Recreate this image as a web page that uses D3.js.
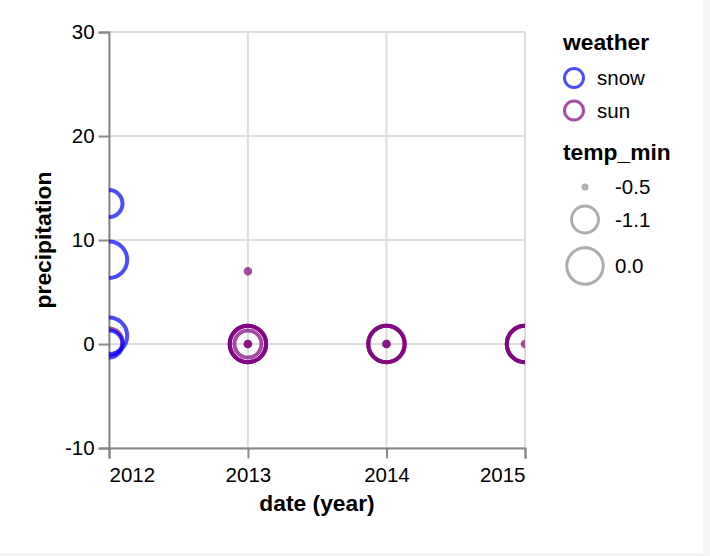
<!DOCTYPE html>
<html>
<head>
<meta charset="utf-8">
<script src="https://cdn.jsdelivr.net/npm/d3@7"></script>
<style>
  body { margin: 0; background: #f4f4f4; }
  svg { display: block; font-family: "Liberation Sans", Arial, Helvetica, sans-serif; }
</style>
</head>
<body>
<svg id="chart" width="710" height="556"></svg>
<script>
// one row per observation
var weather       = ["sun", "snow", "snow", "snow", "snow", "sun", "sun", "sun", "sun", "sun", "sun", "sun", "sun", "sun", "sun", "sun", "sun", "sun", "sun", "sun", "sun"];
var years         = [2012, 2012, 2012, 2012, 2012, 2013, 2013, 2013, 2013, 2013, 2013, 2013, 2014, 2014, 2014, 2014, 2014, 2015, 2015, 2015, 2015];
var precipitation = [0.2, 13.5, 8.1, 0.8, 0, 7.0, 0, 0, 0, 0, 0, 0, 0, 0, 0, 0, 0, 0, 0, 0, 0];
var tempMin       = ["-1.1", "-1.1", "0.0", "0.0", "-1.1", "-0.5", "0.0", "0.0", "0.0", "-1.1", "-0.5", "-0.5", "0.0", "0.0", "0.0", "-0.5", "-0.5", "0.0", "0.0", "0.0", "-0.5"];

var weatherTypes = ["snow", "sun"];
var tempLevels   = ["-0.5", "-1.1", "0.0"];
var yTicks       = [-10, 0, 10, 20, 30];
var xTickYears   = [2012, 2013, 2014, 2015];

var svg = d3.select("#chart");

// white page area, grey frame on right / bottom
svg.append("rect").attr("width", 703).attr("height", 553).attr("fill", "#fff");

var plotLeft = 109, plotTop = 32, w = 416, h = 416;

var x = d3.scaleUtc()
    .domain([new Date(Date.UTC(2012, 0, 1)), new Date(Date.UTC(2015, 0, 1))])
    .range([plotLeft, plotLeft + w]);
var y = d3.scaleLinear().domain([-10, 30]).range([plotTop + h, plotTop]);
var color = d3.scaleOrdinal().domain(weatherTypes).range(["blue", "purple"]);
var radius = d3.scaleOrdinal().domain(tempLevels).range([2.3, 13.5, 18.2]);

var points = years.map(function(yr, i) {
    return {
        date: new Date(Date.UTC(yr, 0, 1)),
        precipitation: precipitation[i],
        weather: weather[i],
        temp: tempMin[i]
    };
});

// grid
var grid = svg.append("g").attr("stroke", "#ddd").attr("stroke-width", 2);
grid.selectAll(".gx")
    .data(xTickYears)
    .enter().append("line")
    .attr("x1", function(d) { return x(new Date(Date.UTC(d, 0, 1))); })
    .attr("x2", function(d) { return x(new Date(Date.UTC(d, 0, 1))); })
    .attr("y1", plotTop).attr("y2", plotTop + h);
grid.selectAll(".gy")
    .data(yTicks)
    .enter().append("line")
    .attr("y1", function(d) { return y(d); })
    .attr("y2", function(d) { return y(d); })
    .attr("x1", plotLeft).attr("x2", plotLeft + w);

// axes
var xAxis = svg.append("g")
    .attr("transform", "translate(0," + (plotTop + h) + ")")
    .call(d3.axisBottom(x)
        .tickValues(xTickYears.map(function(d) { return new Date(Date.UTC(d, 0, 1)); }))
        .tickFormat(d3.utcFormat("%Y"))
        .tickSize(10.4).tickPadding(4));
xAxis.selectAll("text")
    .attr("text-anchor", function(d, i) { return i === 0 ? "start" : (i === xTickYears.length - 1 ? "end" : "middle"); })
    .attr("dy", "0.95em");

var yAxis = svg.append("g")
    .attr("transform", "translate(" + plotLeft + ",0)")
    .call(d3.axisLeft(y).tickValues(yTicks)
        .tickFormat(function(d) { return String(d); })
        .tickSize(10.4).tickPadding(4));

svg.selectAll(".domain, .tick line").attr("stroke", "#888").attr("stroke-width", 2);
svg.selectAll(".tick text").attr("font-size", 20.5).attr("fill", "#000")
    .attr("font-family", "'Liberation Sans', Arial, sans-serif");

// titles
svg.append("text")
    .attr("x", plotLeft + w / 2).attr("y", 511)
    .attr("text-anchor", "middle")
    .attr("font-size", 22.8).attr("font-weight", "bold")
    .text("date (year)");
svg.append("text")
    .attr("transform", "translate(51," + (plotTop + h / 2) + ") rotate(-90)")
    .attr("text-anchor", "middle")
    .attr("font-size", 22.8).attr("font-weight", "bold")
    .text("precipitation");

// points, clipped to plot area
svg.append("clipPath").attr("id", "plotclip")
    .append("rect").attr("x", plotLeft).attr("y", plotTop).attr("width", w).attr("height", h);

svg.append("g").attr("clip-path", "url(#plotclip)")
    .selectAll("circle")
    .data(points)
    .enter().append("circle")
    .attr("cx", function(d) { return x(d.date); })
    .attr("cy", function(d) { return y(d.precipitation); })
    .attr("r", function(d) { return radius(d.temp); })
    .attr("fill", "none")
    .attr("stroke", function(d) { return color(d.weather); })
    .attr("stroke-width", 4)
    .attr("stroke-opacity", 0.7);

// legends
var legend = svg.append("g").attr("transform", "translate(563,0)");

legend.append("text").attr("x", 0).attr("y", 50)
    .attr("font-size", 22.8).attr("font-weight", "bold").text("weather");

var wItems = legend.selectAll(".w")
    .data(weatherTypes)
    .enter().append("g")
    .attr("transform", function(d, i) { return "translate(0," + (78 + i * 32.5) + ")"; });
wItems.append("circle")
    .attr("cx", 11).attr("cy", 0).attr("r", 9.5)
    .attr("fill", "none")
    .attr("stroke", function(d) { return color(d); })
    .attr("stroke-width", 3).attr("stroke-opacity", 0.7);
wItems.append("text").attr("x", 34).attr("y", 7)
    .attr("font-size", 20.5).text(function(d) { return d; });

legend.append("text").attr("x", 0).attr("y", 160)
    .attr("font-size", 22.8).attr("font-weight", "bold").text("temp_min");

var sizeY = [187, 219.5, 266];
var tItems = legend.selectAll(".t")
    .data(tempLevels)
    .enter().append("g")
    .attr("transform", function(d, i) { return "translate(22," + sizeY[i] + ")"; });
tItems.append("circle")
    .attr("r", function(d) { return d === "-0.5" ? 2 : radius(d); })
    .attr("fill", "none")
    .attr("stroke", "#999")
    .attr("stroke-width", 3).attr("stroke-opacity", 0.8);
tItems.append("text").attr("x", 30).attr("y", 7)
    .attr("font-size", 20.5).text(function(d) { return d; });
</script>
</body>
</html>
